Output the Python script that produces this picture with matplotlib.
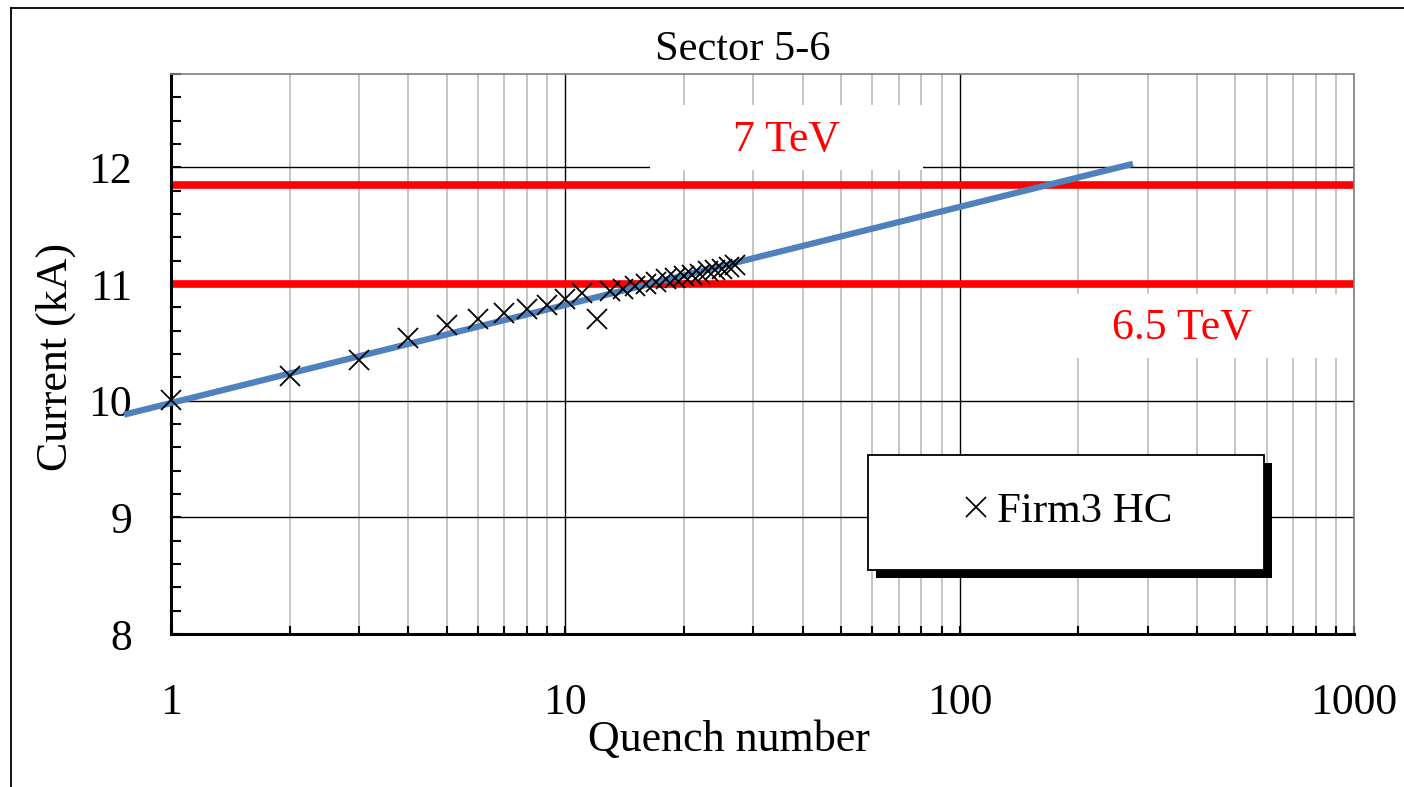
import matplotlib
matplotlib.use('Agg')
import matplotlib.pyplot as plt
from matplotlib.patches import Rectangle
from matplotlib.lines import Line2D
from matplotlib.ticker import MultipleLocator, FixedLocator, FixedFormatter

plt.rcParams['font.family'] = ['Liberation Serif', 'DejaVu Serif']
plt.rcParams['font.size'] = 31.5

# quench training data, sector 5-6
quench = list(range(1, 28))
current = [10.01, 10.21, 10.35, 10.54, 10.65, 10.70, 10.75, 10.79, 10.82,
           10.87, 10.92, 10.70, 10.94, 10.96, 10.98, 11.00, 11.02, 11.04,
           11.05, 11.07, 11.08, 11.09, 11.11, 11.12, 11.13, 11.15, 11.16]

# log trendline end points
fit_q = [0.76, 275]
fit_i = [9.88, 12.03]

# beam energy levels
energies = ['7 TeV', '6.5 TeV']
energy_current = [11.85, 11.0]

x_ticks = [1, 10, 100, 1000]
x_labels = ['1', '10', '100', '1000']
y_ticks = [8, 9, 10, 11, 12]

fig = plt.figure(figsize=(14.04, 7.87), dpi=100)
ax = fig.add_axes([171/1404, 1 - 634/787, (1354 - 171)/1404, (634 - 74)/787])
ax.set_axisbelow(True)

ax.set_xscale('log')
ax.set_xlim(1, 1000)
ax.set_ylim(8, 12.8)

ax.xaxis.set_major_locator(FixedLocator(x_ticks))
ax.xaxis.set_major_formatter(FixedFormatter(x_labels))
ax.set_yticks(y_ticks)
ax.yaxis.set_minor_locator(MultipleLocator(0.2))

ax.grid(True, which='major', color='black', lw=1.0)
ax.grid(True, which='minor', axis='x', color='#C0C0C0', lw=1.3)
ax.grid(False, which='minor', axis='y')

for s in ['left', 'bottom']:
    ax.spines[s].set_linewidth(2.2)
    ax.spines[s].set_color('black')
for s in ['top', 'right']:
    ax.spines[s].set_linewidth(1.2)
    ax.spines[s].set_color('#808080')

ax.tick_params(axis='both', which='both', direction='in', top=False, right=False,
               width=1.5, color='black')
ax.tick_params(axis='y', which='both', length=7, pad=28)
ax.tick_params(axis='x', which='both', length=6, pad=35)

# white boxes behind the energy labels
ax.add_patch(Rectangle((0.405, 0.8286), 0.231, 0.116, transform=ax.transAxes,
                       facecolor='white', edgecolor='none', zorder=1))
ax.add_patch(Rectangle((0.7616, 0.4929), 0.225, 0.114, transform=ax.transAxes,
                       facecolor='white', edgecolor='none', zorder=1))

for c in energy_current:
    ax.axhline(c, color='#FF0000', lw=5.5, zorder=2)

ax.text(0.5207, 0.882, energies[0], color='#FF0000', ha='center', va='center',
        transform=ax.transAxes, zorder=3)
ax.text(0.8546, 0.5464, energies[1], color='#FF0000', ha='center', va='center',
        transform=ax.transAxes, zorder=3)

ax.plot(fit_q, fit_i, color='#4F81BD', lw=4.5, clip_on=False, zorder=3,
        solid_capstyle='butt')
ax.plot(quench, current, linestyle='none', marker='x', color='black',
        markersize=14, markeredgewidth=1.3, clip_on=False, zorder=4,
        label='Firm3 HC')

# legend frame with shadow
ax.add_patch(Rectangle((0.589 + 0.0068, 0.1143 - 0.0143), 0.335, 0.2053,
                       transform=ax.transAxes, facecolor='black',
                       edgecolor='none', zorder=4.4))
ax.add_patch(Rectangle((0.589, 0.1143), 0.335, 0.2053, transform=ax.transAxes,
                       facecolor='white', edgecolor='black', lw=1.3, zorder=4.5))
ax.legend(loc='center', bbox_to_anchor=(0.757, 0.218), frameon=False,
          handlelength=0.7, handletextpad=0.15, fontsize=31)

ax.text(0.4835, 1.043, 'Sector 5-6', ha='center', va='center',
        transform=ax.transAxes, fontsize=30.5)
ax.set_xlabel('Quench number', fontsize=31.7)
ax.xaxis.set_label_coords(0.4717, -0.189)
ax.xaxis.label.set_va('center')
ax.set_ylabel('Current (kA)', fontsize=31.7)
ax.yaxis.set_label_coords(-0.0975, 0.495)
ax.yaxis.label.set_va('center')

# outer frame (left and top only)
fig.add_artist(Line2D([11/1404, 11/1404], [0, 1 - 8/787], color='black', lw=1.3))
fig.add_artist(Line2D([11/1404, 1], [1 - 8/787, 1 - 8/787], color='black', lw=1.3))

fig.savefig('out.png', dpi=100)
